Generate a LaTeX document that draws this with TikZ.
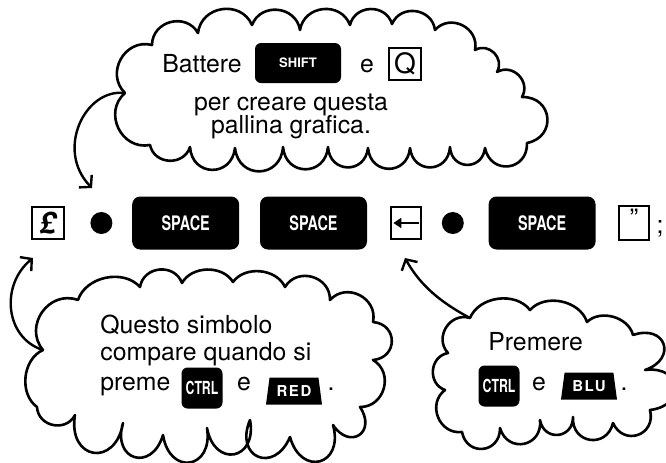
\documentclass[tikz,border=0pt]{standalone}
\usepackage{fontspec}
\setmainfont{TeX Gyre Heros}
\usepackage{graphicx}
\usetikzlibrary{arrows.meta,positioning,shapes.geometric}

\newcommand{\keyfont}[1]{\fontsize{#1}{#1}\selectfont\bfseries}

\begin{document}
\begin{tikzpicture}[x=0.5pt, y=-0.5pt,
  cloudline/.style={line width=1.3pt, line join=round, line cap=round},
  flatpuff/.style={bend left=60, looseness=1},
  puff/.style={bend left=75, looseness=1.3},
  bigpuff/.style={bend left=85, looseness=1.7},
  deeppuff/.style={bend left=90, looseness=2.4},
  arr/.style={-{Straight Barb[length=4pt,width=9pt]}, line width=1.2pt},
  txt/.style={font=\fontsize{12.4}{14.8}\selectfont, inner sep=0pt, anchor=base west},
  midtxt/.style={txt, anchor=base},
  keycap/.style={fill=black, text=white, rounded corners=3pt, inner sep=0pt},
  spacekey/.style={keycap, minimum width=53.5pt, minimum height=26.5pt,
                   rounded corners=4pt, font=\keyfont{10}},
  ctrlkey/.style={keycap, minimum width=20.5pt, minimum height=20.5pt, font=\keyfont{9}},
  colourkey/.style={trapezium, trapezium angle=72, trapezium stretches body,
                    fill=black, text=white, inner sep=0pt,
                    minimum width=28pt, minimum height=13.5pt,
                    font=\fontsize{7.5}{7.5}\selectfont\bfseries\addfontfeature{LetterSpace=10}},
  smallbox/.style={draw, line width=1pt, inner sep=0pt, minimum width=16pt, minimum height=16pt},
  blob/.style={circle, fill=black, inner sep=0pt, minimum size=11pt}
]
\useasboundingbox (0,0) rectangle (666,462);
\clip (0,0) rectangle (666,462);

% clouds
\draw[cloudline] (125,93) coordinate (topcusp)
  to[puff] (152,45) to[puff] (198,33) to[puff] (252,25) to[puff] (300,30)
  to[puff] (350,25) to[puff] (392,24) to[puff] (435,30) to[puff] (475,50)
  to[puff] (497,72) to[puff] (522,97) to[bigpuff] (527,143) to[bigpuff] (485,148)
  to[bigpuff] (450,147) to[bigpuff] (410,148) to[bigpuff] (368,148) to[bigpuff] (328,147)
  to[bigpuff] (283,147) to[bigpuff] (235,148) to[bigpuff] (190,147) to[puff] (150,145)
  to[puff] (125,93);
\draw[cloudline] (43,350) coordinate (leftcusp)
  to[puff] (78,300) to[flatpuff] (140,287) to[puff] (182,283) to[flatpuff] (233,282)
  to[flatpuff] (285,287) to[puff] (330,300) to[puff] (373,322) to[bigpuff] (373,360)
  to[puff] (360,407) to[deeppuff] (333,425) to[deeppuff] (290,437) to[deeppuff] (250,420)
  to[deeppuff] (207,428) to[deeppuff] (163,435) to[deeppuff] (123,423) to[deeppuff] (75,415)
  to[puff] (37,407) to[flatpuff] (43,350);
\draw[cloudline] (470,318) coordinate (rightcusp)
  to[flatpuff] (530,310) to[flatpuff] (587,322) to[flatpuff] (633,335) to[deeppuff] (645,370)
  to[deeppuff] (650,410) to[bigpuff] (613,423) to[bigpuff] (573,417) to[bigpuff] (540,420)
  to[bigpuff] (500,428) to[bigpuff] (462,432) to[puff] (445,390) to[puff] (448,353)
  to[puff] (470,318);

% top cloud text
\node[txt] (battere) at (162,72) {Battere};
\node[keycap, minimum width=43pt, minimum height=20pt, font=\keyfont{6.5}] (shift) at (298,63) {SHIFT};
\node[midtxt] (and1) at (367,72) {e};
\node[smallbox, font=\fontsize{14}{14}\selectfont] (qkey) at (405,64) {Q};
\node[midtxt] (line2) at (291,110) {per creare questa};
\node[midtxt] (line3) at (291,133) {pallina grafica.};

% key row
\node[smallbox, font=\fontsize{15}{15}\selectfont\bfseries\itshape] (pound) at (48,223) {£};
\node[blob, right=12.5pt of pound] (dot1) {};
\node[spacekey, right=9.5pt of dot1] (space1) {\scalebox{.72}[1]{SPACE}};
\node[spacekey, right=10pt of space1] (space2) {\scalebox{.72}[1]{SPACE}};
\node[smallbox, minimum width=15pt, right=11.5pt of space2,
      path picture={\draw[-{Triangle[length=4pt,width=5pt]}, line width=1pt]
        ([xshift=-1pt]path picture bounding box.east) -- ([xshift=1pt]path picture bounding box.west);}] (larr) {};
\node[blob, right=9.5pt of larr] (dot2) {};
\node[spacekey, right=12pt of dot2] (space3) {\scalebox{.72}[1]{SPACE}};
\node[smallbox, minimum width=15pt, minimum height=17pt, right=11pt of space3,
      label={[inner sep=0pt, anchor=north, yshift=-2pt, font=\fontsize{13}{13}\selectfont]north:”}] (quote) {};
\node[midtxt] (semi) at (660,233) {;};

% bottom left cloud text
\node[txt] (ql1) at (100,333) {Questo simbolo};
\node[txt] (ql2) at (100,360) {compare quando si};
\node[txt] (ql3) at (100,390) {preme};
\node[ctrlkey] (ctrl1) at (202,388) {\scalebox{.68}[1]{CTRL}};
\node[midtxt] (and2) at (244,390) {e};
\node[colourkey] (red) at (294,391) {RED};
\node[midtxt] (stop1) at (331,390) {.};

% bottom right cloud text
\node[txt] (prem) at (488,350) {Premere};
\node[ctrlkey] (ctrl2) at (499,386) {\scalebox{.68}[1]{CTRL}};
\node[midtxt] (and3) at (539,390) {e};
\node[colourkey] (blu) at (589,386) {BLU};
\node[midtxt] (stop2) at (624,390) {.};

% pointers
\coordinate (tiptop) at (92,188);
\coordinate (tipleft) at (33,258);
\coordinate (tipright) at (405,258);
\draw[arr] (topcusp) .. controls (85,88) and (55,150) .. (tiptop);
\draw[arr] (leftcusp) .. controls (5,338) and (0,285) .. (tipleft);
\draw[arr] (rightcusp) .. controls (440,302) and (420,285) .. (tipright);
\end{tikzpicture}
\end{document}
